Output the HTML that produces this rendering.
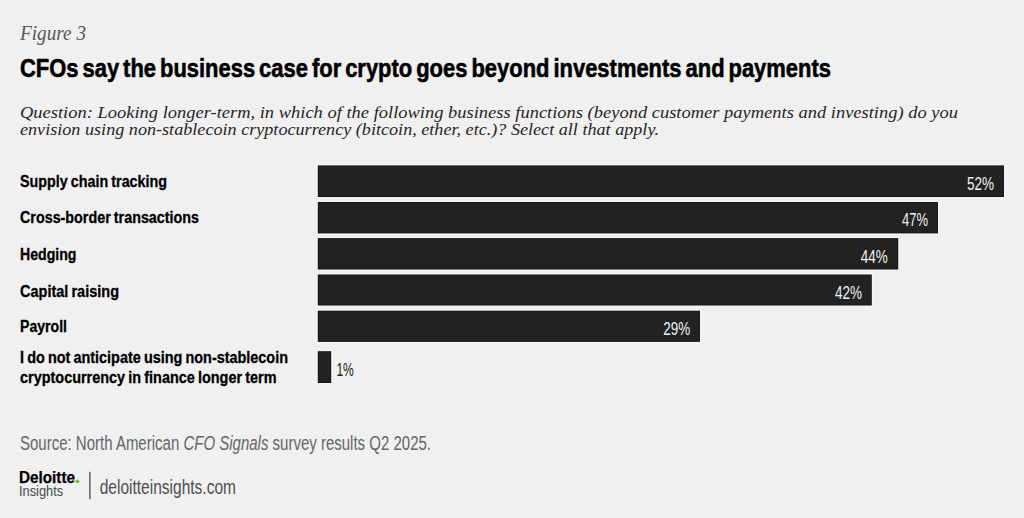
<!DOCTYPE html>
<html>
<head>
<meta charset="utf-8">
<title>Figure 3</title>
<style>
html,body{margin:0;padding:0;background:#f0f0f0;}
body{width:1024px;height:518px;overflow:hidden;position:relative;}
svg{display:block;position:absolute;left:0;top:0;}
.serif{font-family:"Liberation Serif",serif;}
.sans{font-family:"Liberation Sans",sans-serif;}
</style>
</head>
<body>
<svg width="1024" height="518" viewBox="0 0 1024 518">
  <rect x="0" y="0" width="1024" height="518" fill="#f0f0f0"/>

  <!-- Figure label -->
  <text class="serif" x="20" y="39.6" font-size="21" font-style="italic" fill="#58595b" textLength="66" lengthAdjust="spacingAndGlyphs">Figure 3</text>

  <!-- Title -->
  <text class="sans" x="20" y="76.7" font-size="26.6" font-weight="bold" fill="#000" stroke="#000" stroke-width="0.6" stroke-linejoin="round" word-spacing="-2.6" textLength="811" lengthAdjust="spacingAndGlyphs">CFOs say the business case for crypto goes beyond investments and payments</text>

  <!-- Question -->
  <text class="serif" x="20" y="118.3" font-size="17" font-style="italic" fill="#262626" textLength="938" lengthAdjust="spacingAndGlyphs">Question: Looking longer-term, in which of the following business functions (beyond customer payments and investing) do you</text>
  <text class="serif" x="20" y="135.2" font-size="17" font-style="italic" fill="#262626" textLength="639" lengthAdjust="spacingAndGlyphs">envision using non-stablecoin cryptocurrency (bitcoin, ether, etc.)? Select all that apply.</text>

  <!-- Bars -->
  <g>
    <rect x="316.6" y="164.2" width="688.6" height="34.0" fill="#f5f5f5"/>
    <rect x="316.6" y="200.8" width="622.6" height="33.8" fill="#f5f5f5"/>
    <rect x="316.6" y="236.9" width="582.8" height="33.8" fill="#f5f5f5"/>
    <rect x="316.6" y="273.3" width="556.4" height="33.4" fill="#f5f5f5"/>
    <rect x="316.6" y="309.5" width="384.6" height="33.6" fill="#f5f5f5"/>
    <rect x="316.6" y="350.0" width="15.8" height="34.2" fill="#f5f5f5"/>
    <rect x="317.8" y="165.4" width="686.2" height="31.6" fill="#171717"/>
    <rect x="318.8" y="166.4" width="684.2" height="29.6" fill="#222"/>
    <rect x="317.8" y="202.0" width="620.2" height="31.4" fill="#171717"/>
    <rect x="318.8" y="203.0" width="618.2" height="29.4" fill="#222"/>
    <rect x="317.8" y="238.1" width="580.4" height="31.4" fill="#171717"/>
    <rect x="318.8" y="239.1" width="578.4" height="29.4" fill="#222"/>
    <rect x="317.8" y="274.5" width="554.0" height="31.0" fill="#171717"/>
    <rect x="318.8" y="275.5" width="552.0" height="29.0" fill="#222"/>
    <rect x="317.8" y="310.7" width="382.2" height="31.2" fill="#171717"/>
    <rect x="318.8" y="311.7" width="380.2" height="29.2" fill="#222"/>
    <rect x="317.8" y="351.2" width="13.4" height="31.8" fill="#171717"/>
    <rect x="318.8" y="352.2" width="11.4" height="29.8" fill="#222"/>
  </g>

  <!-- Labels -->
  <g class="sans" font-size="16.6" font-weight="bold" fill="#000" stroke="#000" stroke-width="0.3" stroke-linejoin="round" word-spacing="-1" transform="translate(0,0.5)">
    <text x="20" y="186.3" textLength="147" lengthAdjust="spacingAndGlyphs">Supply chain tracking</text>
    <text x="20" y="222.8" textLength="179" lengthAdjust="spacingAndGlyphs">Cross-border transactions</text>
    <text x="20" y="259.3" textLength="56.5" lengthAdjust="spacingAndGlyphs">Hedging</text>
    <text x="20" y="296" textLength="99" lengthAdjust="spacingAndGlyphs">Capital raising</text>
    <text x="20" y="331.6" textLength="47" lengthAdjust="spacingAndGlyphs">Payroll</text>
    <text x="20" y="362.7" textLength="268" lengthAdjust="spacingAndGlyphs">I do not anticipate using non-stablecoin</text>
    <text x="20" y="382.9" textLength="256.5" lengthAdjust="spacingAndGlyphs">cryptocurrency in finance longer term</text>
  </g>

  <!-- Values -->
  <g class="sans" font-size="18" fill="#f2f2f2">
    <text x="967" y="190.1" textLength="27" lengthAdjust="spacingAndGlyphs">52%</text>
    <text x="902" y="226.4" textLength="26" lengthAdjust="spacingAndGlyphs">47%</text>
    <text x="860.7" y="262.6" textLength="27" lengthAdjust="spacingAndGlyphs">44%</text>
    <text x="835" y="298.9" textLength="27" lengthAdjust="spacingAndGlyphs">42%</text>
    <text x="663.3" y="334.9" textLength="27" lengthAdjust="spacingAndGlyphs">29%</text>
  </g>
  <text class="sans" x="336.4" y="376" font-size="18" fill="#222" textLength="17.4" lengthAdjust="spacingAndGlyphs">1%</text>

  <!-- Source -->
  <text class="sans" x="20" y="449.6" font-size="20" fill="#666" textLength="411" lengthAdjust="spacingAndGlyphs">Source: North American <tspan font-style="italic">CFO Signals</tspan> survey results Q2 2025.</text>

  <!-- Logo -->
  <text class="sans" x="19" y="482.8" font-size="15.7" font-weight="bold" fill="#000" stroke="#000" stroke-width="0.25" textLength="56" lengthAdjust="spacingAndGlyphs">Deloitte</text>
  <circle cx="77.4" cy="481.3" r="1.9" fill="#86bc25"/>
  <text class="sans" x="19" y="496.4" font-size="15.5" fill="#4a4a4a" textLength="44.2" lengthAdjust="spacingAndGlyphs">Insights</text>
  <rect x="89.2" y="471.8" width="1.4" height="27.4" fill="#555"/>
  <text class="sans" x="99.7" y="493.6" font-size="19.8" fill="#4d4d4d" textLength="136.3" lengthAdjust="spacingAndGlyphs">deloitteinsights.com</text>
</svg>
</body>
</html>
